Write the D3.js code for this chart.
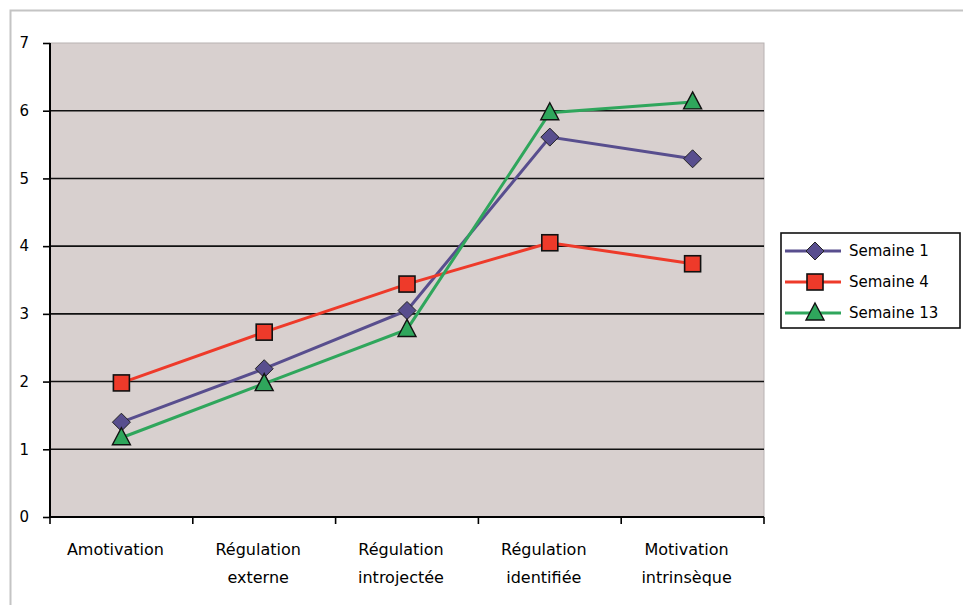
<!DOCTYPE html>
<html><head><meta charset="utf-8">
<script src="https://cdn.jsdelivr.net/npm/d3@7"></script>
<style>body{margin:0;background:#fff;}svg{display:block;}</style>
</head><body>
<svg id="c" width="963" height="605"></svg>
<script>
const categories = [["Amotivation"],["Régulation","externe"],["Régulation","introjectée"],["Régulation","identifiée"],["Motivation","intrinsèque"]];
const seriesNames = ["Semaine 1","Semaine 4","Semaine 13"];
const semaine1 = [1.40, 2.19, 3.05, 5.61, 5.29];
const semaine4 = [1.98, 2.73, 3.44, 4.05, 3.74];
const semaine13 = [1.17, 1.97, 2.77, 5.97, 6.13];
const yTicks = [0,1,2,3,4,5,6,7];

const colors = ["#584e8e","#ee3a2a","#2fa65c"];
const shapes = ["diamond","square","triangle"];
const allSeries = [semaine1, semaine4, semaine13];

const svg = d3.select("#c");
const L = 50, R = 764, T = 43, B = 517;
const font = "'DejaVu Sans', Verdana, sans-serif";
const fs = 16;

// outer frame
svg.append("path").attr("d","M10.5,605 V10.5 H963").attr("fill","none").attr("stroke","#c4c4c4").attr("stroke-width",2);

const x = d3.scaleBand().domain(d3.range(categories.length)).range([L,R]).padding(0);
const y = d3.scaleLinear().domain([0,7]).range([B,T]);

svg.append("rect").attr("x",L).attr("y",T).attr("width",R-L).attr("height",B-T).attr("fill","#d8d0cf").attr("stroke","#b8b2b2").attr("stroke-width",1);

// gridlines
svg.append("g").selectAll("line").data(yTicks.filter(d=>d>0&&d<7)).join("line")
  .attr("x1",L).attr("x2",R).attr("y1",d=>y(d)).attr("y2",d=>y(d))
  .attr("stroke","#111").attr("stroke-width",1.6);

// y axis
const ya = svg.append("g").attr("transform",`translate(${L},0)`)
  .call(d3.axisLeft(y).tickValues(yTicks).tickSize(7).tickPadding(14).tickFormat(d3.format("d")));
ya.select(".domain").attr("stroke","#000").attr("stroke-width",2).attr("d",`M0,${T}V${B}`);
ya.selectAll(".tick line").attr("stroke","#000").attr("stroke-width",1.6);
ya.selectAll("text").attr("font-family",font).attr("font-size",fs-1).attr("fill","#000");

// x axis
const xa = svg.append("g").attr("transform",`translate(0,${B})`)
  .call(d3.axisBottom(x).tickSize(0).tickFormat(""));
xa.select(".domain").attr("stroke","#000").attr("stroke-width",2).attr("d",`M${L},0H${R}`);
xa.selectAll(".tick").remove();
xa.selectAll("line.sep").data(d3.range(categories.length+1)).join("line").attr("class","sep")
  .attr("x1",i=>L+i*x.bandwidth()).attr("x2",i=>L+i*x.bandwidth()).attr("y1",0).attr("y2",7)
  .attr("stroke","#000").attr("stroke-width",1.6);
const xl = svg.append("g").selectAll("text").data(categories).join("text")
  .attr("x",(d,i)=>x(i)+x.bandwidth()/2 - 6).attr("y",B+38)
  .attr("text-anchor","middle").attr("font-family",font).attr("font-size",fs).attr("fill","#000");
xl.each(function(d){
  const t=d3.select(this);
  d.forEach((s,j)=>t.append("tspan").attr("x",t.attr("x")).attr("dy",j===0?0:28).text(s));
});

function marker(g, shape, color, cx, cy){
  if(shape==="diamond"){
    g.append("path").attr("d",`M${cx},${cy-9}L${cx+9},${cy}L${cx},${cy+9}L${cx-9},${cy}Z`)
      .attr("fill",color).attr("stroke","#222").attr("stroke-width",1);
  } else if(shape==="square"){
    g.append("rect").attr("x",cx-8).attr("y",cy-8).attr("width",16).attr("height",16)
      .attr("fill",color).attr("stroke","#111").attr("stroke-width",1.6);
  } else {
    g.append("path").attr("d",`M${cx},${cy-10}L${cx+9},${cy+7}L${cx-9},${cy+7}Z`)
      .attr("fill",color).attr("stroke","#111").attr("stroke-width",1.4);
  }
}

const line = d3.line().x((d,i)=>x(i)+x.bandwidth()/2).y(d=>y(d));
allSeries.forEach((s,k)=>{
  svg.append("path").datum(s).attr("d",line).attr("fill","none").attr("stroke",colors[k]).attr("stroke-width",3);
});
allSeries.forEach((s,k)=>{
  const g = svg.append("g");
  s.forEach((v,i)=>marker(g, shapes[k], colors[k], x(i)+x.bandwidth()/2, y(v)));
});

// legend
const lg = svg.append("g");
lg.append("rect").attr("x",781).attr("y",233).attr("width",179).attr("height",95).attr("fill","#fff").attr("stroke","#111").attr("stroke-width",1.6);
seriesNames.forEach((n,k)=>{
  const yy = 251 + k*31;
  lg.append("line").attr("x1",785).attr("x2",841).attr("y1",yy).attr("y2",yy).attr("stroke",colors[k]).attr("stroke-width",3);
  marker(lg, shapes[k], colors[k], 815, yy);
  lg.append("text").attr("x",849).attr("y",yy+5).attr("font-family",font).attr("font-size",fs-1).attr("fill","#000").text(n);
});
</script>
</body></html>
